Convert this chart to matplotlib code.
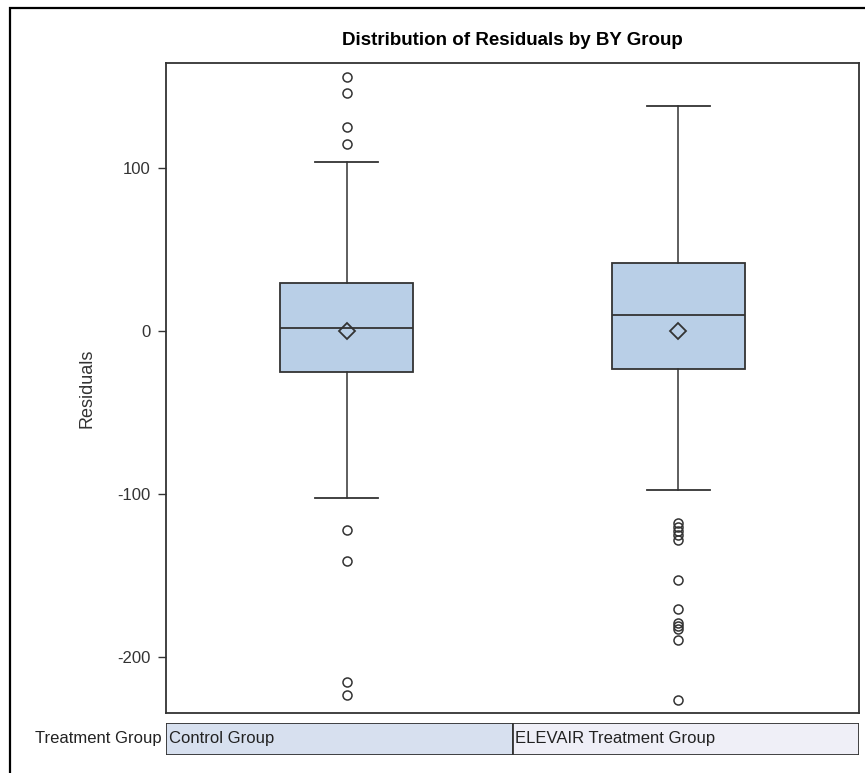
import matplotlib
matplotlib.use("Agg")
from matplotlib import pyplot as plt
from matplotlib.patches import Rectangle

plt.rcParams['font.family'] = ['Liberation Sans', 'DejaVu Sans']

groups = ["Control Group", "ELEVAIR Treatment Group"]
q1 = [-25.3, -23.1]
medians = [2.0, 9.6]
q3 = [29.3, 41.5]
means = [0.0, 0.0]
whisker_lo = [-102.5, -97.5]
whisker_hi = [103.5, 138.0]
outliers_control = [155.8, 146.0, 125.2, 114.7, -122.1, -140.9, -215.1, -223.3]
outliers_elevair = [-117.8, -120.2, -122.7, -125.2, -128.2, -152.8, -170.6,
                    -179.1, -181.0, -182.8, -189.6, -226.4]
y_ticks = [-200, -100, 0, 100]

W, H = 865, 773
fig = plt.figure(figsize=(W / 100, H / 100), dpi=100)

def fig_box(x0, y0, x1, y1):
    # pixel box (top-left origin) -> figure fraction rect
    return [x0 / W, 1 - y1 / H, (x1 - x0) / W, (y1 - y0) / H]

edge = '#333333'
ax = fig.add_axes(fig_box(166, 63, 859, 713))

stats = []
for i, name in enumerate(groups):
    fl = outliers_control if i == 0 else outliers_elevair
    stats.append(dict(label=name, q1=q1[i], med=medians[i], q3=q3[i], mean=means[i],
                      whislo=whisker_lo[i], whishi=whisker_hi[i], fliers=fl))

ax.bxp(stats, positions=[1, 2], widths=0.4, patch_artist=True, showmeans=True,
       boxprops=dict(facecolor='#b9cfe7', edgecolor=edge, linewidth=1.3),
       medianprops=dict(color=edge, linewidth=1.3),
       whiskerprops=dict(color=edge, linewidth=1.1),
       capprops=dict(color=edge, linewidth=1.3),
       capwidths=0.19,
       flierprops=dict(marker='o', markerfacecolor='none', markeredgecolor=edge,
                       markersize=6.5, markeredgewidth=1.1),
       meanprops=dict(marker='D', markerfacecolor='none', markeredgecolor=edge,
                      markersize=8, markeredgewidth=1.3))

ax.set_xlim(0.455, 2.545)
ax.set_ylim(-234.4, 164.4)
ax.set_xticks([])
ax.set_yticks(y_ticks)
ax.set_yticklabels([str(t) for t in y_ticks])
ax.tick_params(axis='y', direction='out', length=6, width=1, color=edge,
               labelsize=12, labelcolor='#333333', pad=5)
for sp in ax.spines.values():
    sp.set_color(edge)
    sp.set_linewidth(1.3)
ax.set_ylabel("Residuals", fontsize=13, color='#333333', labelpad=16)
ax.set_title("Distribution of Residuals by BY Group", fontsize=13.5,
             fontweight='bold', pad=13)

# class table under the plot
tab = fig.add_axes(fig_box(166, 723, 859, 755))
tab.set_xlim(0.455, 2.545)
tab.set_ylim(0, 1)
tab.axis('off')
cell_colors = ['#d7e0ef', '#efeff7']
bounds = [0.455, 1.5, 2.545]
for i, name in enumerate(groups):
    tab.add_patch(Rectangle((bounds[i], 0), bounds[i + 1] - bounds[i], 1,
                            facecolor=cell_colors[i], edgecolor=edge, linewidth=1.3))
    tab.text(bounds[i] + 0.008, 0.5, name, va='center', ha='left',
             fontsize=12, color='#222222')
fig.text(162 / W, 1 - 739 / H, "Treatment Group", ha='right', va='center',
         fontsize=12, color='#222222')

# outer frame, only left and top edges fall inside the image
fig.add_artist(Rectangle((10 / W, -0.1), 1.2, (1 - 8 / H) + 0.1,
                         transform=fig.transFigure, fill=False,
                         edgecolor='black', linewidth=1.6))

fig.savefig("out.png", dpi=100)
